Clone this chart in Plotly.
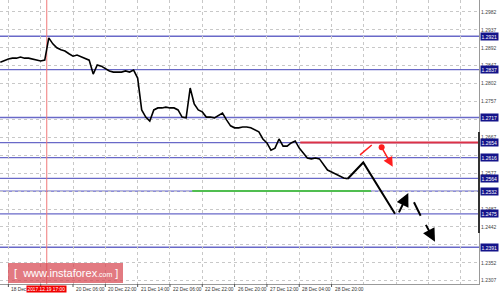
import plotly.graph_objects as go

# ---- data ----
bars = list(range(0, 174, 2))
closes = [1.2856, 1.2861, 1.2864, 1.2866, 1.2866, 1.2869, 1.2866, 1.2866, 1.2864, 1.2861,
          1.2859, 1.2861, 1.2917, 1.2902, 1.2892, 1.2887, 1.2884, 1.2877, 1.2871, 1.2874,
          1.2869, 1.2866, 1.2861, 1.2826, 1.2849, 1.2846, 1.2839, 1.2834, 1.2831, 1.2831,
          1.2831, 1.2834, 1.2831, 1.2836, 1.2816, 1.2736, 1.2718, 1.2708, 1.2736, 1.2741,
          1.2741, 1.2743, 1.2741, 1.2741, 1.2736, 1.2718, 1.2716, 1.2791, 1.2751, 1.2736,
          1.2731, 1.2718, 1.2718, 1.2716, 1.2721, 1.2728, 1.2711, 1.2696, 1.2691, 1.2691,
          1.2693, 1.2693, 1.2691, 1.2686, 1.2681, 1.2663, 1.2653, 1.2635, 1.2640, 1.2663,
          1.2645, 1.2645, 1.2653, 1.2658, 1.2640, 1.2628, 1.2615, 1.2613, 1.2615, 1.2613,
          1.2600, 1.2585, 1.2580, 1.2575, 1.2568, 1.2565, 1.2563]

levels = [1.2921, 1.2837, 1.2717, 1.2654, 1.2616, 1.2564, 1.2532, 1.2475, 1.2391]
resistance_level = 1.2654
support_level = 1.2532

grid_prices = [1.2982, 1.2937, 1.2892, 1.2847, 1.2802, 1.2757, 1.2712, 1.2667, 1.2622,
               1.2577, 1.2532, 1.2487, 1.2442, 1.2397, 1.2352, 1.2307]
# tick labels not hidden behind the level boxes
y_tick_labels = [1.2982, 1.2937, 1.2892, 1.2847, 1.2802, 1.2757, 1.2667,
                 1.2577, 1.2487, 1.2442, 1.2352, 1.2307]

x_label_bars = [4, 36, 52, 68, 84, 100, 116, 132, 148, 164]
x_labels = ["18 Dec 22:00", "20 Dec 06:00", "20 Dec 22:00", "21 Dec 14:00",
            "22 Dec 06:00", "22 Dec 22:00", "26 Dec 20:00", "27 Dec 12:00", "28 Dec 04:00",
            "28 Dec 20:00"]
x_tick_bars = [4, 20, 36, 52, 68, 84, 100, 116, 132, 148, 164]
grid_bars = [4, 20, 36, 52, 68, 84, 100, 116, 132, 148, 164, 180, 196, 212, 228]

marker_bar = 23
marker_label = "2017.12.19 17:00"

# forecast drawing (bar, price)
path_bars = [172, 179.7, 195.4]
path_prices = [1.2563, 1.2604, 1.2475]
up_arrow = [(197.0, 1.2475), (202.0, 1.2527)]
down_seg = [(204.8, 1.2504), (208.1, 1.2470)]
down_arrow = [(210.3, 1.2451), (215.2, 1.2405)]
red_seg = [(178.1, 1.2623), (183.9, 1.2648)]
red_dot = (188.8, 1.2642)
red_arrow_end = (194.3, 1.2593)
green_start = 95
green_end = 183.5
red_start = 148.5

X_RANGE = [-0.15, 237.0]
Y_RANGE = [1.22987, 1.30121]

BLUE = "rgb(105,105,200)"
NAVY = "#14148a"
FONT = "Liberation Sans"

fig = go.Figure()

shapes = []
for lv in levels:
    shapes.append(dict(type="line", xref="paper", x0=0, x1=1, yref="y", y0=lv, y1=lv,
                       line=dict(color=BLUE, width=1.3), layer="below"))
shapes.append(dict(type="line", xref="x", x0=red_start, x1=X_RANGE[1], yref="y",
                   y0=resistance_level, y1=resistance_level,
                   line=dict(color="rgb(220,50,70)", width=2)))
shapes.append(dict(type="line", xref="x", x0=green_start, x1=green_end, yref="y",
                   y0=support_level, y1=support_level,
                   line=dict(color="rgb(80,190,80)", width=2)))
shapes.append(dict(type="line", xref="x", x0=marker_bar, x1=marker_bar, yref="paper", y0=0, y1=1,
                   line=dict(color="rgb(240,120,120)", width=1), layer="below"))
for b in x_tick_bars:
    shapes.append(dict(type="line", xref="x", x0=b, x1=b, yref="paper", ysizemode="pixel",
                       yanchor=0, y0=0, y1=-3, line=dict(color="#555", width=1)))
shapes.append(dict(type="line", xref="paper", x0=1, x1=1, yref="paper",
                   y0=1 - 233 / 284, y1=1 - 132 / 284, line=dict(color="#333", width=2)))
shapes.append(dict(type="rect", xref="paper", yref="paper", x0=8 / 479, x1=123 / 479,
                   y0=1 - 283 / 284, y1=1 - 263 / 284, fillcolor="rgba(215,70,80,0.72)",
                   line=dict(width=0)))

fig.add_trace(go.Scatter(x=bars, y=closes, mode="lines",
                         line=dict(color="black", width=1.6), hoverinfo="skip"))
fig.add_trace(go.Scatter(x=path_bars, y=path_prices, mode="lines",
                         line=dict(color="black", width=2), hoverinfo="skip"))
fig.add_trace(go.Scatter(x=[p[0] for p in down_seg], y=[p[1] for p in down_seg], mode="lines",
                         line=dict(color="black", width=2), hoverinfo="skip"))
fig.add_trace(go.Scatter(x=[p[0] for p in red_seg], y=[p[1] for p in red_seg], mode="lines",
                         line=dict(color="rgb(255,30,30)", width=1.5), hoverinfo="skip"))
fig.add_trace(go.Scatter(x=[red_dot[0]], y=[red_dot[1]], mode="markers",
                         marker=dict(color="rgb(255,30,30)", size=6), hoverinfo="skip"))

annotations = []
for (s, e, col, w) in [(up_arrow[0], up_arrow[1], "black", 2),
                       (down_arrow[0], down_arrow[1], "black", 2),
                       (red_dot, red_arrow_end, "rgb(255,30,30)", 1.5)]:
    annotations.append(dict(x=e[0], y=e[1], ax=s[0], ay=s[1], xref="x", yref="y",
                            axref="x", ayref="y", showarrow=True, arrowhead=2,
                            arrowsize=1.3, arrowwidth=w, arrowcolor=col, text=""))
for lv in levels:
    annotations.append(dict(xref="paper", x=1, xanchor="left", xshift=1, yref="y", y=lv,
                            yanchor="middle", text=f"{lv:.4f}", showarrow=False,
                            bgcolor=NAVY, borderpad=0.5,
                            font=dict(size=5, color="white", family=FONT)))
for b, t in zip(x_label_bars, x_labels):
    annotations.append(dict(xref="x", x=b, xanchor="left", xshift=1, yref="paper", y=0,
                            yanchor="top", yshift=-1, text=t, showarrow=False,
                            font=dict(size=4.8, color="#333", family=FONT)))
annotations.append(dict(xref="x", x=marker_bar, xanchor="center", yref="paper", y=0,
                        yanchor="top", yshift=-1, text=marker_label, showarrow=False,
                        bgcolor="rgb(240,0,0)", borderpad=0.5,
                        font=dict(size=4.8, color="white", family=FONT)))
annotations.append(dict(xref="paper", yref="paper", x=(8 + 123) / 2 / 479, y=1 - 273 / 284,
                        xanchor="center", yanchor="middle", showarrow=False,
                        text="[  www.instaforex<span style='font-size:7px'>.com</span> ]",
                        font=dict(size=11, color="white", family=FONT)))

fig.update_layout(
    width=500, height=294,
    margin=dict(l=0, r=21, t=0, b=10),
    paper_bgcolor="white", plot_bgcolor="white",
    showlegend=False,
    shapes=shapes, annotations=annotations,
    xaxis=dict(range=X_RANGE, tickvals=grid_bars, showticklabels=False, ticks="",
               showgrid=True, gridcolor="#c8c8c8", griddash="dot", gridwidth=1,
               zeroline=False, showline=True, linecolor="#999", linewidth=1),
    yaxis=dict(range=Y_RANGE, side="right", tickvals=grid_prices,
               ticktext=[f"{v:.4f}" if v in y_tick_labels else "" for v in grid_prices],
               ticks="",
               tickfont=dict(size=5, color="#444", family=FONT),
               showgrid=True, gridcolor="#c8c8c8", griddash="dot", gridwidth=1,
               zeroline=False, showline=True, linecolor="#999", linewidth=1),
)

fig.write_html("out.html")
